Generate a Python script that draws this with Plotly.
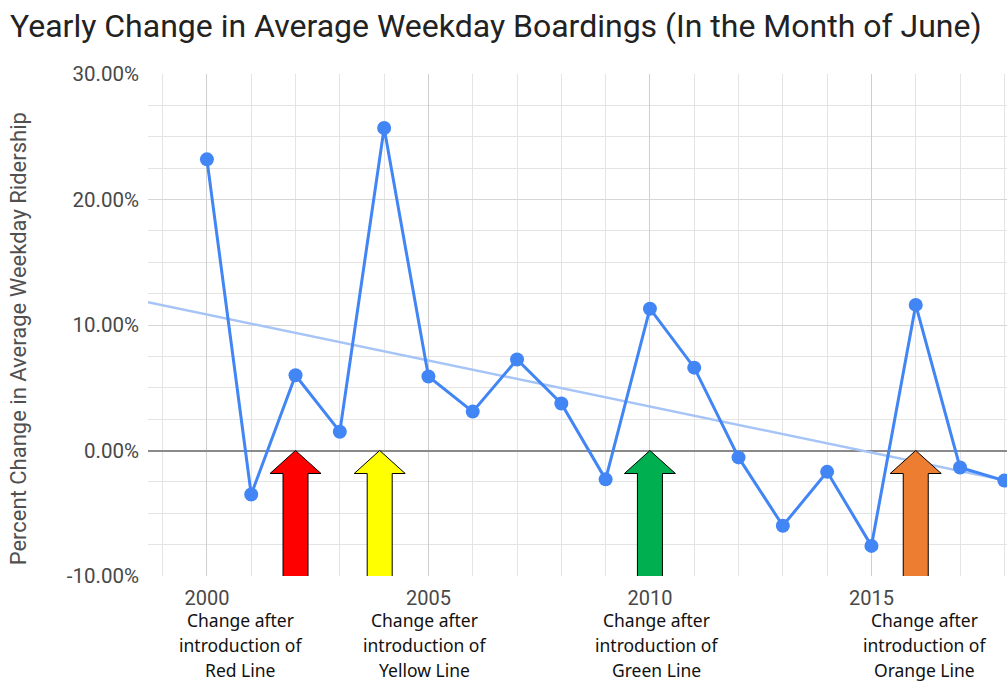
import numpy as np
import plotly.graph_objects as go

# ---- data ----
years = list(range(2000, 2019))
pct_change = [23.2, -3.5, 6.0, 1.5, 25.7, 5.9, 3.1, 7.25, 3.75, -2.3,
              11.3, 6.6, -0.55, -6.0, -1.7, -7.6, 11.6, -1.35, -2.4]

arrow_years = [2002, 2003.9, 2010, 2016]
arrow_colors = ["#ff0000", "#ffff00", "#00b050", "#ed7d31"]
line_names = ["Red Line", "Yellow Line", "Green Line", "Orange Line"]
label_x = [2000.75, 2004.92, 2010.14, 2016.2]

y_tickvals = [-10, 0, 10, 20, 30]
y_ticktext = ["-10.00%", "0.00%", "10.00%", "20.00%", "30.00%"]

x_range = [1998.67, 2018.06]
y_range = [-10, 30]

# linear trendline, like the one Sheets draws
slope, intercept = np.polyfit(years, pct_change, 1)
trend_x = np.array(x_range)
trend_y = slope * trend_x + intercept

fig = go.Figure()
fig.add_trace(go.Scatter(x=trend_x, y=trend_y, mode="lines",
                         line=dict(color="#a6c5f6", width=2.5),
                         hoverinfo="skip", showlegend=False))
fig.add_trace(go.Scatter(x=years, y=pct_change, mode="lines+markers",
                         line=dict(color="#4285f4", width=3),
                         marker=dict(color="#4285f4", size=14),
                         showlegend=False))

# block arrows pointing up at the zero line
arrow_path = "M 0 0 L 25.5 -23 L 12.5 -23 L 12.5 -129 L -12.5 -129 L -12.5 -23 L -25.5 -23 Z"
for yr, col in zip(arrow_years, arrow_colors):
    fig.add_shape(type="path", xref="x", yref="y",
                  xsizemode="pixel", ysizemode="pixel",
                  xanchor=yr, yanchor=0, path=arrow_path,
                  fillcolor=col, line=dict(color="#000000", width=1),
                  layer="above")

# captions under the axis
for lx, name in zip(label_x, line_names):
    for i, txt in enumerate(["Change after", "introduction of", name]):
        fig.add_annotation(x=lx, xref="x", y=-0.088 - i * 0.0495, yref="paper",
                           text=txt, showarrow=False, xanchor="center", yanchor="middle",
                           font=dict(family="Noto Sans", size=17.5, color="#111111"))

fig.add_annotation(x=-0.151, xref="paper", y=0.472, yref="paper",
                   text="Percent Change in Average Weekday Ridership",
                   textangle=-90, showarrow=False, xanchor="center", yanchor="middle",
                   font=dict(family="Roboto", size=22, color="#505050"))

fig.update_layout(
    width=1007, height=681,
    margin=dict(l=148, r=0, t=74, b=105),
    paper_bgcolor="white", plot_bgcolor="white",
    title=dict(text="Yearly Change in Average Weekday Boardings (In the Month of June)",
               x=10 / 1007, xref="container", xanchor="left",
               y=1 - 26 / 681, yref="container", yanchor="middle",
               font=dict(family="Roboto", size=32, color="#222222")),
    xaxis=dict(range=x_range, tick0=2000, dtick=5, showgrid=True,
               gridcolor="#cfcfcf", gridwidth=1, zeroline=False,
               minor=dict(dtick=1, showgrid=True, gridcolor="#e4e4e4", gridwidth=1),
               tickfont=dict(family="Roboto", size=20, color="#484848"),
               ticks="", ticklabelstandoff=8, fixedrange=True),
    yaxis=dict(range=y_range, tickvals=y_tickvals, ticktext=y_ticktext,
               showgrid=True, gridcolor="#d6d6d6", gridwidth=1,
               zeroline=True, zerolinecolor="#8a8a8a", zerolinewidth=2,
               minor=dict(dtick=2.5, showgrid=True, gridcolor="#e4e4e4", gridwidth=1),
               tickfont=dict(family="Roboto", size=20.5, color="#484848"),
               ticks="", ticklabelstandoff=8, fixedrange=True),
)

# drop the page's default body margin so the figure sits at the window's corner
fig.write_html("out.html", config={"displayModeBar": False},
               post_script="document.body.style.margin='0';")
